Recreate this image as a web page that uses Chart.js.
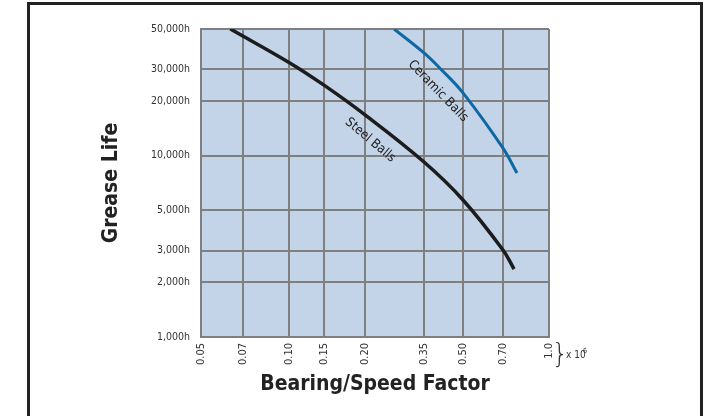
<!DOCTYPE html>
<html>
<head>
<meta charset="utf-8">
<script src="https://cdn.jsdelivr.net/npm/chart.js@4/dist/chart.umd.min.js"></script>
<style>
  html, body { margin: 0; padding: 0; background: #fff; }
  #frame {
    position: absolute; left: 27px; top: 2px; width: 676px; height: 500px;
    box-sizing: border-box; border: 3px solid #222;
  }
  #wrap { position: absolute; left: 0; top: 0; width: 715px; height: 416px; }
</style>
</head>
<body>
<div id="frame"></div>
<div id="wrap"><canvas id="lineChart" width="715" height="416"></canvas></div>
<script>
// bearing/speed factor (x 10^6) ticks and labels
const factorTicks = [0.05, 0.07, 0.10, 0.15, 0.20, 0.35, 0.50, 0.70, 1.0];
const factorLabels = ["0.05", "0.07", "0.10", "0.15", "0.20", "0.35", "0.50", "0.70", "1.0"];
// grease life ticks (hours)
const hourTicks = [1000, 2000, 3000, 5000, 10000, 20000, 30000, 50000];

const steelX = [0.064, 0.10, 0.15, 0.20, 0.35, 0.50, 0.70, 0.772];
const steelY = [50000, 32700, 24500, 16800, 9230, 5700, 3020, 2370];

const ceramicX = [0.274, 0.35, 0.415, 0.50, 0.70, 0.791];
const ceramicY = [50000, 36900, 30000, 22200, 11000, 8030];

// where each factor tick sits along the axis (fraction of width), the chart uses uneven spacing
const gridStops = [0, 0.1207, 0.2529, 0.3534, 0.4713, 0.6408, 0.7529, 0.8678, 1];

const FONT = "'Liberation Sans Narrow', 'DejaVu Sans Condensed', sans-serif";
Chart.defaults.font.family = FONT;
Chart.defaults.color = "#333";

// linear scale with piecewise spacing between the tick values
class SteppedScale extends Chart.LinearScale {
  getPixelForValue(value) {
    let frac = 0;
    for (let i = 0; i < factorTicks.length - 1; i++) {
      const a = factorTicks[i], b = factorTicks[i + 1];
      if (value <= b || i === factorTicks.length - 2) {
        const t = (value - a) / (b - a);
        frac = gridStops[i] + t * (gridStops[i + 1] - gridStops[i]);
        break;
      }
    }
    return this.getPixelForDecimal(frac);
  }
  getValueForPixel(pixel) {
    const frac = this.getDecimalForPixel(pixel);
    for (let i = 0; i < gridStops.length - 1; i++) {
      if (frac <= gridStops[i + 1] || i === gridStops.length - 2) {
        const t = (frac - gridStops[i]) / (gridStops[i + 1] - gridStops[i]);
        return factorTicks[i] + t * (factorTicks[i + 1] - factorTicks[i]);
      }
    }
  }
}
SteppedScale.id = "stepped";
SteppedScale.defaults = Chart.LinearScale.defaults;
Chart.register(SteppedScale);

const curveLabels = [
  { text: "Steel Balls", x: 0.213, y: 12200, angle: 40 },
  { text: "Ceramic Balls", x: 0.404, y: 22700, angle: 46 },
];

const plotBg = {
  id: "plotBg",
  beforeDraw(chart) {
    const { ctx, chartArea: a } = chart;
    ctx.save();
    ctx.fillStyle = "#c3d4e9";
    ctx.fillRect(a.left, a.top, a.right - a.left, a.bottom - a.top);
    ctx.restore();
  },
};

const annotations = {
  id: "annotations",
  afterDraw(chart) {
    const { ctx, chartArea: a, scales } = chart;
    ctx.save();
    ctx.fillStyle = "#222";
    ctx.textAlign = "center";
    ctx.textBaseline = "middle";
    ctx.font = "13px " + FONT;
    curveLabels.forEach((l) => {
      const px = scales.x.getPixelForValue(l.x);
      const py = scales.y.getPixelForValue(l.y);
      ctx.save();
      ctx.translate(px, py);
      ctx.rotate((l.angle * Math.PI) / 180);
      ctx.fillText(l.text, 0, 0);
      ctx.restore();
    });
    // } x 10^6 next to the last tick
    const bx = a.right + 11;
    const by = a.bottom + 18;
    ctx.font = "300 26px 'DejaVu Sans', sans-serif";
    ctx.fillStyle = "#333";
    ctx.fillText("}", bx, by);
    ctx.textAlign = "left";
    ctx.font = "10px " + FONT;
    ctx.fillText("x 10", bx + 6, by);
    ctx.font = "7px " + FONT;
    ctx.fillText("6", bx + 23, by - 4);
    ctx.restore();
  },
};

const ctxL = document.getElementById("lineChart").getContext("2d");
const myLineChart = new Chart(ctxL, {
  type: "line",
  data: {
    datasets: [
      {
        label: "Steel Balls",
        data: steelX.map((x, i) => ({ x: x, y: steelY[i] })),
        borderColor: "#1c1c1c",
        borderWidth: 3.5,
        pointRadius: 0,
        tension: 0.4,
      },
      {
        label: "Ceramic Balls",
        data: ceramicX.map((x, i) => ({ x: x, y: ceramicY[i] })),
        borderColor: "#0e68a4",
        borderWidth: 3,
        pointRadius: 0,
        tension: 0.4,
      },
    ],
  },
  options: {
    responsive: false,
    animation: false,
    devicePixelRatio: 1,
    layout: { padding: { top: 29, right: 166, left: 0, bottom: 0 } },
    plugins: { legend: { display: false }, tooltip: { enabled: false } },
    scales: {
      x: {
        type: "stepped",
        min: 0.05,
        max: 1.0,
        afterBuildTicks: (scale) => {
          scale.ticks = factorTicks.map((v) => ({ value: v }));
        },
        afterFit: (scale) => { scale.height = 79; },
        ticks: {
          autoSkip: false,
          minRotation: 90,
          maxRotation: 90,
          padding: 6,
          font: { size: 11 },
          color: "#333",
          callback: (v, i) => factorLabels[i],
        },
        grid: { color: "#7f7f7f", lineWidth: 2, drawTicks: false },
        border: { color: "#7f7f7f", width: 2 },
        title: {
          display: true,
          text: "Bearing/Speed Factor",
          color: "#222",
          font: { size: 21, weight: "bold" },
          padding: { top: 0, bottom: 19 },
        },
      },
      y: {
        type: "logarithmic",
        min: 1000,
        max: 50000,
        afterBuildTicks: (scale) => {
          scale.ticks = hourTicks.map((v) => ({ value: v }));
        },
        afterFit: (scale) => { scale.width = 201; },
        ticks: {
          padding: 11,
          font: { size: 10.5 },
          color: "#333",
          callback: (v) => Number(v).toLocaleString("en-US") + "h",
        },
        grid: { color: "#7f7f7f", lineWidth: 2, drawTicks: false },
        border: { color: "#7f7f7f", width: 2 },
        title: {
          display: true,
          text: "Grease Life",
          color: "#222",
          font: { size: 21, weight: "bold" },
          padding: { top: 99, bottom: 0 },
        },
      },
    },
  },
  plugins: [plotBg, annotations],
});
</script>
</body>
</html>
